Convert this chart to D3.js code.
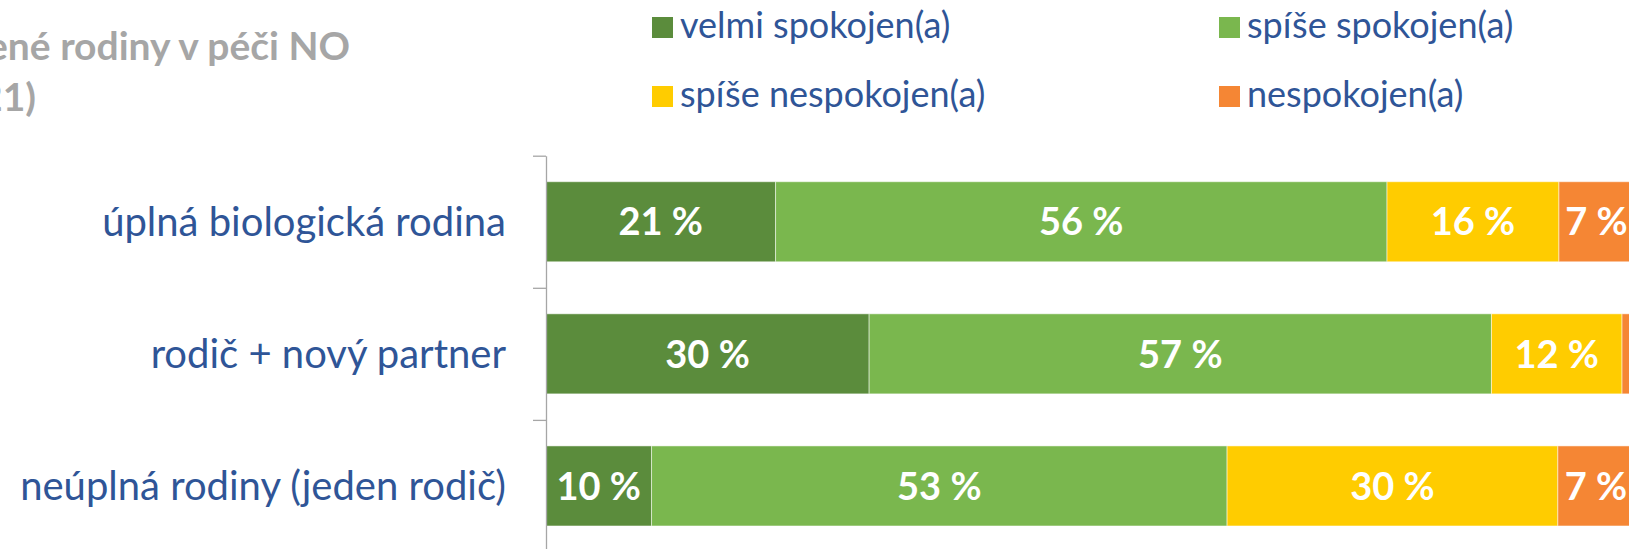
<!DOCTYPE html>
<html>
<head>
<meta charset="utf-8">
<script src="https://cdn.jsdelivr.net/npm/d3@7"></script>
<style>
  body { margin: 0; background: #fff; }
  svg { display: block; font-family: Lato, "Noto Sans", sans-serif; }
</style>
</head>
<body>
<div id="chart"></div>
<script>
var categories = ["úplná biologická rodina", "rodič + nový partner", "neúplná rodiny (jeden rodič)"]
var seriesNames = ["velmi spokojen(a)", "spíše spokojen(a)", "spíše nespokojen(a)", "nespokojen(a)"]
var velmiSpokojen = [21.1, 29.7, 9.7]
var spiseSpokojen = [56.2, 57.2, 52.9]
var spiseNespokojen = [15.8, 12.0, 30.4]
var nespokojen = [6.9, 1.1, 7.0]
var colors = ["#5b8c3c", "#7ab74e", "#ffcc00", "#f58634"]
var titleLines = ["Oslovené rodiny v péči NO", "(2021)"]

var svgSize = { width: 1629, height: 549 }

var svg = d3.select("#chart")
    .append("svg")
    .attr("width", svgSize.width)
    .attr("height", svgSize.height)

var plot = { left: 546, top: 155.7, bottom: 552, width: 1088 }

var series = [velmiSpokojen, spiseSpokojen, spiseNespokojen, nespokojen]

var rows = categories.map((c, i) => {
    var row = { cat: c }
    seriesNames.forEach((s, j) => row[s] = series[j][i])
    return row
})

var stacked = d3.stack().keys(seriesNames)(rows)

var xScale = d3.scaleLinear()
    .domain([0, 100])
    .range([plot.left, plot.left + plot.width])

var yScale = d3.scaleBand()
    .domain(categories)
    .range([plot.top, plot.bottom])
    .paddingInner(0.394)
    .paddingOuter(0.197)

var color = d3.scaleOrdinal().domain(seriesNames).range(colors)

// title (cut off on the left like in the source)
svg.append("g").selectAll("text")
    .data(titleLines)
    .enter()
    .append("text")
    .attr("x", (d, i) => i == 0 ? 350 : 36)
    .attr("y", (d, i) => i == 0 ? 60 : 111)
    .attr("text-anchor", "end")
    .attr("font-weight", "bold")
    .attr("font-size", 39)
    .attr("fill", "#a6a6a6")
    .text(d => d)

// legend
var legend = svg.append("g")
var legendItems = legend.selectAll("g")
    .data(seriesNames)
    .enter()
    .append("g")
    .attr("transform", (d, i) => `translate(${i % 2 == 0 ? 652 : 1219}, ${i < 2 ? 17 : 86})`)

legendItems.append("rect")
    .attr("width", 21)
    .attr("height", 21)
    .attr("fill", d => color(d))

legendItems.append("text")
    .attr("x", 28)
    .attr("y", 21)
    .attr("font-size", 36)
    .attr("fill", "#2f5597")
    .text(d => d)

// bars
var bars = svg.append("g")
bars.selectAll("g")
    .data(stacked)
    .enter()
    .append("g")
    .attr("fill", d => color(d.key))
    .selectAll("rect")
    .data(d => d)
    .enter()
    .append("rect")
    .attr("x", d => xScale(d[0]))
    .attr("y", d => yScale(d.data.cat))
    .attr("width", d => xScale(d[1]) - xScale(d[0]))
    .attr("height", yScale.bandwidth())
    .attr("stroke", "#ffffff")
    .attr("stroke-opacity", 0.5)
    .attr("stroke-width", 1)

// value labels
var labels = svg.append("g")
stacked.forEach(s => {
    labels.selectAll(null)
        .data(s.filter(d => d[1] - d[0] >= 3))
        .enter()
        .append("text")
        .attr("x", d => (xScale(d[0]) + xScale(d[1])) / 2)
        .attr("y", d => yScale(d.data.cat) + yScale.bandwidth() / 2)
        .attr("dy", "0.36em")
        .attr("text-anchor", "middle")
        .attr("font-weight", "bold")
        .attr("font-size", 38)
        .attr("fill", "#ffffff")
        .text(d => Math.round(d[1] - d[0]) + " %")
})

// category axis
var tickScale = d3.scaleLinear().domain([0, categories.length]).range([plot.top, plot.bottom])
var axis = svg.append("g")
    .attr("transform", `translate(${plot.left}, 0)`)
    .call(d3.axisLeft(tickScale).tickValues(d3.range(categories.length + 1)).tickSize(13).tickSizeOuter(0).tickFormat(""))
axis.selectAll("path, line").attr("stroke", "#a6a6a6").attr("stroke-width", 1.3)

svg.append("g").selectAll("text")
    .data(categories)
    .enter()
    .append("text")
    .attr("x", 506)
    .attr("y", d => yScale(d) + yScale.bandwidth() / 2)
    .attr("dy", "0.36em")
    .attr("text-anchor", "end")
    .attr("font-size", 40)
    .attr("fill", "#2f5597")
    .text(d => d)
</script>
</body>
</html>
